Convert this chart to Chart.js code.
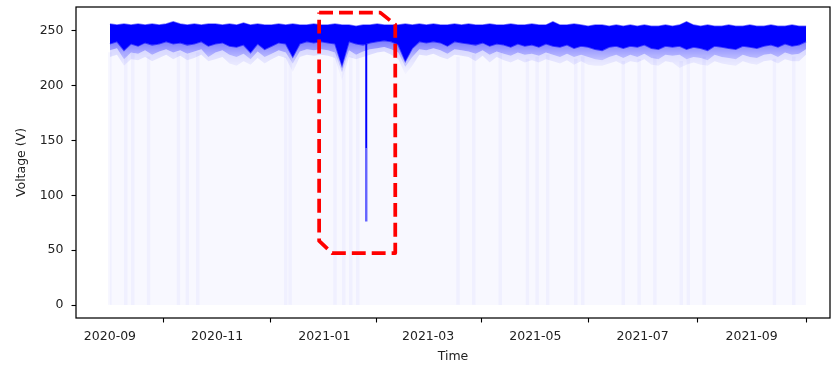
<!DOCTYPE html>
<html>
<head>
<meta charset="utf-8">
<script src="https://cdn.jsdelivr.net/npm/chart.js@4"></script>
<style>
  body { margin: 0; background: #fff; }
  canvas { display: block; }
</style>
</head>
<body>
<canvas id="voltChart" width="832" height="366"></canvas>
<script>
// x = days since 2020-09-01
var tickDays = [0, 61, 122, 181, 242, 303, 365];
var tickLabels = ["2020-09", "2020-11", "2021-01", "2021-03", "2021-05", "2021-07", "2021-09"];
var yTicks = [0, 50, 100, 150, 200, 250];

// sampled envelope of the voltage band, every 4 days
var bandDays = [0, 4, 8, 12, 16, 20, 24, 28, 32, 36,
  40, 44, 48, 52, 56, 60, 64, 68, 72, 76,
  80, 84, 88, 92, 96, 100, 104, 108, 112, 116,
  120, 124, 128, 132, 136, 140, 144, 148, 152, 156,
  160, 164, 168, 172, 176, 180, 184, 188, 192, 196,
  200, 204, 208, 212, 216, 220, 224, 228, 232, 236,
  240, 244, 248, 252, 256, 260, 264, 268, 272, 276,
  280, 284, 288, 292, 296, 300, 304, 308, 312, 316,
  320, 324, 328, 332, 336, 340, 344, 348, 352, 356,
  360, 364, 368, 372, 376, 380, 384, 388, 392, 396];

// upper edge
var bandTop = [256, 255, 256, 255, 256, 255, 256, 255, 256, 258,
  256, 255, 256, 255, 256, 256, 255, 256, 255, 257,
  255, 256, 255, 255, 256, 255, 256, 255, 255, 256,
  255, 255, 256, 255, 255, 254, 255, 255, 256, 255,
  255, 255, 256, 255, 256, 255, 256, 255, 255, 256,
  255, 256, 255, 255, 256, 255, 255, 256, 255, 255,
  256, 255, 255, 258, 255, 255, 256, 255, 254, 255,
  255, 254, 255, 254, 255, 254, 255, 254, 254, 255,
  254, 255, 258, 255, 254, 255, 254, 254, 255, 254,
  254, 255, 254, 254, 255, 254, 254, 255, 254, 254];

// bottom of the dense core
var bandCore = [238, 240, 232, 238, 236, 239, 237, 238, 240, 238,
  239, 237, 238, 240, 236, 238, 239, 236, 235, 237,
  230, 238, 233, 236, 239, 238, 226, 238, 240, 239,
  240, 239, 238, 218, 240, 238, 237, 239, 240, 241,
  240, 237, 222, 234, 240, 239, 240, 239, 236, 240,
  239, 238, 237, 239, 236, 238, 237, 235, 238, 236,
  237, 235, 238, 236, 235, 237, 234, 236, 235, 233,
  232, 235, 236, 234, 236, 235, 237, 234, 233, 236,
  235, 236, 233, 235, 234, 232, 236, 235, 234, 233,
  236, 235, 234, 236, 237, 235, 238, 236, 237, 240];

// semi transparent part
var bandMid = [232, 234, 224, 230, 229, 232, 228, 231, 233, 230,
  232, 229, 231, 233, 226, 230, 232, 228, 226, 229,
  224, 231, 226, 229, 232, 230, 220, 231, 233, 232,
  233, 232, 230, 212, 232, 228, 231, 233, 234, 235,
  233, 230, 217, 226, 233, 232, 234, 232, 229, 233,
  232, 231, 229, 232, 228, 231, 229, 227, 230, 228,
  229, 227, 230, 228, 226, 229, 226, 228, 226, 224,
  223, 226, 228, 225, 228, 226, 229, 225, 224, 228,
  227, 228, 224, 226, 225, 223, 228, 226, 225, 224,
  228, 226, 225, 228, 229, 226, 230, 228, 229, 233];

// faint lower edge
var bandLow = [226, 228, 218, 224, 223, 226, 222, 225, 228, 224,
  227, 223, 225, 228, 222, 224, 226, 220, 218, 222,
  219, 225, 220, 224, 227, 225, 212, 226, 228, 227,
  228, 227, 225, 204, 226, 224, 226, 228, 230, 231,
  228, 224, 210, 218, 228, 227, 229, 226, 224, 228,
  227, 226, 222, 227, 221, 226, 223, 221, 224, 221,
  223, 221, 224, 222, 220, 223, 219, 222, 219, 218,
  218, 220, 222, 219, 222, 221, 224, 219, 218, 222,
  221, 216, 219, 221, 219, 218, 222, 220, 219, 218,
  222, 220, 219, 222, 223, 220, 224, 222, 222, 228];

// deep drop at the end of january
var spikeDays = [145.8, 145.8];
var spikeTop = [238, 143];
var spikeTail = [143, 76];

// faint vertical streaks (outages down to 0)
var stripeDays = [0, 9, 13, 22, 39, 44, 50, 100, 102.5, 128, 133, 137, 141, 198, 207, 222, 237.5, 243, 249, 265, 269, 292, 301, 310, 325, 329, 338, 378, 389];
var stripeVals = [230, 228, 230, 226, 230, 228, 230, 226, 228, 230, 228, 226, 230, 226, 228, 230, 224, 226, 228, 224, 226, 222, 224, 226, 222, 224, 226, 224, 226];

// red dashed highlight box
var boxDays = [119, 153.8, 162.3, 162.3, 126.4, 119, 119];
var boxVals = [266.4, 266.4, 255.5, 47.4, 47.4, 58.4, 266.4];

function toPoints(xs, ys) {
  var out = [];
  for (var i = 0; i < xs.length; i++) out.push({ x: xs[i], y: ys[i] });
  return out;
}

// vertical fade between two voltages
function fade(vTop, vBottom, aTop, aBottom) {
  return function (c) {
    var chart = c.chart;
    if (!chart.chartArea) return "rgba(0,0,255," + aTop + ")";
    var ys = chart.scales.y;
    var g = chart.ctx.createLinearGradient(0, ys.getPixelForValue(vTop), 0, ys.getPixelForValue(vBottom));
    g.addColorStop(0, "rgba(0,0,255," + aTop + ")");
    g.addColorStop(1, "rgba(0,0,255," + aBottom + ")");
    return g;
  };
}

var FONT = { family: "'DejaVu Sans', sans-serif", size: 12.5 };

// matplotlib like frame
var framePlugin = {
  id: "frame",
  afterDraw: function (chart) {
    var a = chart.chartArea;
    var ctx = chart.ctx;
    ctx.save();
    ctx.strokeStyle = "#000";
    ctx.lineWidth = 1.25;
    ctx.strokeRect(a.left, a.top, a.right - a.left, a.bottom - a.top);
    ctx.restore();
  },
};

var lineBase = { type: "line", pointRadius: 0, tension: 0, borderWidth: 0 };

new Chart(document.getElementById("voltChart"), {
  type: "line",
  data: {
    datasets: [
      Object.assign({}, lineBase, {
        data: toPoints(boxDays, boxVals),
        borderColor: "#ff0000",
        borderWidth: 3.75,
        borderDash: [13.9, 6],
        borderJoinStyle: "round",
        fill: false,
      }),
      Object.assign({}, lineBase, {
        data: toPoints(spikeDays, spikeTop),
        borderColor: "rgb(0,0,255)",
        borderWidth: 2,
        fill: false,
      }),
      Object.assign({}, lineBase, {
        data: toPoints(spikeDays, spikeTail),
        borderColor: "rgba(0,0,255,0.6)",
        borderWidth: 2.4,
        fill: false,
      }),
      Object.assign({}, lineBase, {
        data: toPoints(bandDays, bandTop),
        borderColor: "rgba(0,0,255,0.5)",
        borderWidth: 1.5,
        backgroundColor: "rgb(0,0,255)",
        fill: "+1",
      }),
      Object.assign({}, lineBase, {
        data: toPoints(bandDays, bandCore),
        borderColor: "rgba(0,0,255,0.6)",
        borderWidth: 1.5,
        backgroundColor: fade(240, 222, 0.5, 0.22),
        fill: "+1",
      }),
      Object.assign({}, lineBase, {
        data: toPoints(bandDays, bandMid),
        backgroundColor: fade(234, 212, 0.16, 0.05),
        fill: "+1",
      }),
      Object.assign({}, lineBase, {
        data: toPoints(bandDays, bandLow),
        backgroundColor: "rgba(0,0,255,0.028)",
        fill: "origin",
      }),
      {
        type: "bar",
        data: toPoints(stripeDays, stripeVals),
        backgroundColor: "rgba(0,0,255,0.035)",
        borderWidth: 0,
        barThickness: 3,
      },
    ],
  },
  options: {
    responsive: false,
    animation: false,
    devicePixelRatio: 1,
    layout: { padding: { top: 7, right: 2, left: 0, bottom: 0 } },
    plugins: { legend: { display: false }, tooltip: { enabled: false } },
    scales: {
      x: {
        type: "linear",
        min: -19.3,
        max: 409.6,
        offset: false,
        afterBuildTicks: function (scale) {
          scale.ticks = tickDays.map(function (v) { return { value: v }; });
        },
        afterFit: function (scale) {
          scale.height = 48;
          scale.paddingLeft = 0;
          scale.paddingRight = 0;
        },
        grid: { display: true, drawOnChartArea: false, drawTicks: true, tickLength: 4.5, tickColor: "#000", tickWidth: 1.1 },
        border: { display: false },
        ticks: {
          autoSkip: false,
          maxRotation: 0,
          padding: 7,
          color: "#222",
          font: FONT,
          callback: function (value) {
            var i = tickDays.indexOf(value);
            return i >= 0 ? tickLabels[i] : "";
          },
        },
        title: { display: true, text: "Time", color: "#222", font: FONT, padding: { top: 0, bottom: 1.5 } },
      },
      y: {
        min: -11.8,
        max: 271.5,
        afterBuildTicks: function (scale) {
          scale.ticks = yTicks.map(function (v) { return { value: v }; });
        },
        afterFit: function (scale) {
          scale.width = 76;
          scale.paddingTop = 0;
          scale.paddingBottom = 0;
        },
        grid: { display: true, drawOnChartArea: false, drawTicks: true, tickLength: 4.5, tickColor: "#000", tickWidth: 1.1 },
        border: { display: false },
        ticks: { padding: 8, color: "#222", font: FONT },
        title: { display: true, text: "Voltage (V)", color: "#222", font: FONT, padding: { top: 14.5, bottom: 0 } },
      },
    },
  },
  plugins: [framePlugin],
});
</script>
</body>
</html>
